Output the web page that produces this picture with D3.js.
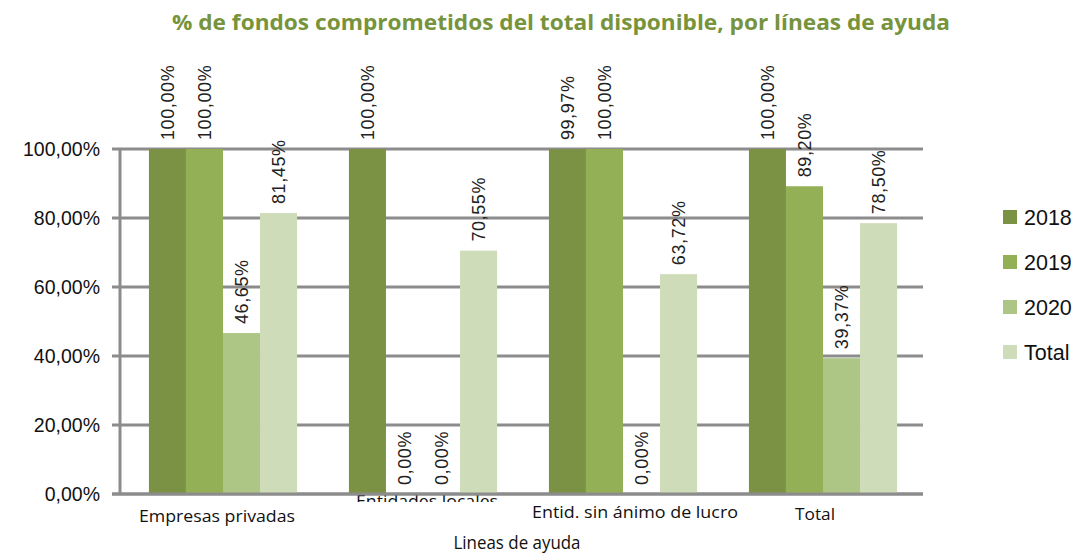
<!DOCTYPE html>
<html><head><meta charset="utf-8">
<script src="https://cdn.jsdelivr.net/npm/d3@7"></script>
<style>body{margin:0;background:#fff}svg{display:block}</style>
</head><body>
<svg id="c" width="1075" height="556"></svg>
<script>
const categories = ["Empresas privadas","Entidades locales","Entid. sin ánimo de lucro","Total"];
const seriesNames = ["2018","2019","2020","Total"];
const v2018 = [100.00, 100.00, 99.97, 100.00];
const v2019 = [100.00, 0.00, 100.00, 89.20];
const v2020 = [46.65, 0.00, 0.00, 39.37];
const vTotal = [81.45, 70.55, 63.72, 78.50];
const yTicks = [0,20,40,60,80,100];
const title = "% de fondos comprometidos del total disponible, por líneas de ayuda";
const xTitle = "Lineas de ayuda";
const colors = ["#7b9244","#94b056","#aec685","#cfdcb9"];

const values = [v2018, v2019, v2020, vTotal];
const svg = d3.select("#c");
const font = "'Open Sans', sans-serif";
const font2 = "'Liberation Sans', Arial, sans-serif";
const fmt = v => d3.format(".2f")(v).replace(".", ",") + "%";

const x0 = d3.scaleBand().domain(categories).range([123, 923]).paddingInner(0).paddingOuter(0);
const x1 = d3.scaleBand().domain(seriesNames).range([0, x0.bandwidth()]).paddingInner(0).paddingOuter(0.7);
const y = d3.scaleLinear().domain([0, 100]).range([494, 149]);

// gridlines
svg.append("g").selectAll("line").data(yTicks).join("line")
  .attr("x1", 112).attr("x2", 923)
  .attr("y1", d => y(d)).attr("y2", d => y(d))
  .attr("stroke", "#8c8c8c").attr("stroke-width", 3);
// y axis line
svg.append("line").attr("x1", 120).attr("x2", 120).attr("y1", y(100)).attr("y2", y(0))
  .attr("stroke", "#8c8c8c").attr("stroke-width", 3);

// y tick labels
svg.append("g").selectAll("text").data(yTicks).join("text")
  .attr("x", 100).attr("y", d => y(d)).attr("dy", "0.36em")
  .attr("text-anchor", "end").attr("font-family", font2).attr("font-size", 19.5).attr("fill", "#111")
  .text(d => fmt(d));

// category labels
const defs = svg.append("defs");
defs.append("clipPath").attr("id", "clipLab").append("rect").attr("x", 300).attr("y", 495).attr("width", 260).attr("height", 7);
const catLab = [
  {y: 522, len: 156, dx: -6},
  {y: 507, len: 142, dx: 4},
  {y: 518, len: 206, dx: 12},
  {y: 520, len: 40, dx: -8}
];
categories.forEach((c, i) => {
  const t = svg.append("text")
    .attr("x", x0(c) + x0.bandwidth() / 2 + catLab[i].dx).attr("y", catLab[i].y)
    .attr("text-anchor", "middle").attr("font-family", font).attr("font-size", 15.5).attr("fill", "#111")
    .attr("textLength", catLab[i].len).attr("lengthAdjust", "spacingAndGlyphs")
    .text(c);
  if (i === 1) t.attr("clip-path", "url(#clipLab)");
});

// bars
const rows = [];
categories.forEach((c, i) => seriesNames.forEach((s, j) => rows.push({c, s, j, v: values[j][i]})));
svg.append("g").selectAll("rect").data(rows).join("rect")
  .attr("x", d => x0(d.c) + x1(d.s)).attr("width", x1.bandwidth())
  .attr("y", d => y(d.v)).attr("height", d => y(0) - y(d.v))
  .attr("fill", d => colors[d.j]);

// bottom axis line over bars
svg.append("line").attr("x1", 112).attr("x2", 923).attr("y1", y(0)).attr("y2", y(0))
  .attr("stroke", "#8c8c8c").attr("stroke-width", 3);

// data labels
svg.append("g").selectAll("text").data(rows).join("text")
  .attr("transform", d => `translate(${x0(d.c) + x1(d.s) + x1.bandwidth() / 2},${y(d.v) - 9}) rotate(-90)`)
  .attr("dy", "0.36em").attr("text-anchor", "start")
  .attr("font-family", font2).attr("font-size", 18).attr("letter-spacing", 0.6).attr("fill", "#222")
  .text(d => fmt(d.v));

// title
svg.append("text").attr("x", 561).attr("y", 30).attr("text-anchor", "middle")
  .attr("font-family", font).attr("font-weight", "bold").attr("font-size", 21).attr("fill", "#77933c")
  .attr("textLength", 778).attr("lengthAdjust", "spacingAndGlyphs")
  .text(title);

// x axis title
svg.append("text").attr("x", 517).attr("y", 549).attr("text-anchor", "middle")
  .attr("font-family", font).attr("font-size", 18).attr("fill", "#111")
  .attr("textLength", 127).attr("lengthAdjust", "spacingAndGlyphs")
  .text(xTitle);

// legend
const lg = svg.append("g").selectAll("g").data(seriesNames).join("g")
  .attr("transform", (d, i) => `translate(1003,${217 + i * 45})`);
lg.append("rect").attr("x", 0).attr("y", -7).attr("width", 14).attr("height", 14).attr("fill", (d, i) => colors[i]);
lg.append("text").attr("x", 21).attr("y", 0).attr("dy", "0.36em")
  .attr("font-family", font2).attr("font-size", 21.5).attr("fill", "#111").text(d => d);
</script>
</body></html>
